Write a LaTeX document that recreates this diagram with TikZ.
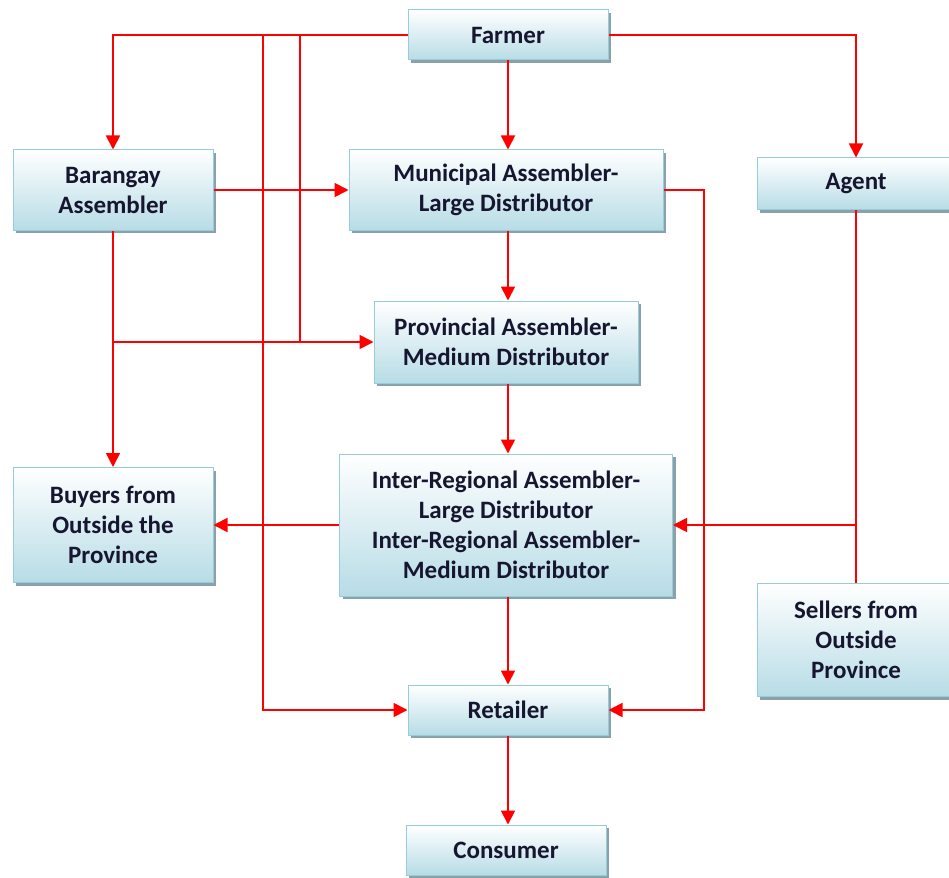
\documentclass[tikz,border=0pt]{standalone}
\usepackage{fontspec}
\setmainfont{Carlito}
\usetikzlibrary{arrows.meta,shadows}
\definecolor{boxedge}{RGB}{150,205,218}
\definecolor{boxbot}{RGB}{183,220,230}
\definecolor{shade}{RGB}{140,160,170}
\definecolor{ink}{RGB}{22,22,48}
\tikzset{
  stage/.style={draw=boxedge, line width=1pt, top color=white, bottom color=boxbot,
    drop shadow={shadow xshift=3pt, shadow yshift=-3pt, fill=shade, opacity=1},
    align=center, font=\fontsize{25}{30}\selectfont\bfseries, text=ink, inner sep=0pt},
  flow/.style={draw=red, line width=1.8pt, -{Triangle[length=14pt,width=14pt]}},
  link/.style={draw=red, line width=1.8pt}
}
\begin{document}
\begin{tikzpicture}[x=1pt,y=-1pt]
\useasboundingbox (0,0) rectangle (949,877);
\fill[white] (0,0) rectangle (949,877);

% stages of the supply chain
\node[stage, minimum width=200pt, minimum height=50pt] (farmer) at (508,35) {Farmer};
\node[stage, minimum width=200pt, minimum height=80pt] (barangay) at (113,190) {Barangay\\Assembler};
\node[stage, minimum width=314pt, minimum height=80pt] (municipal) at (506,190) {Municipal Assembler-\\Large Distributor};
\node[stage, minimum width=198pt, minimum height=52pt] (agent) at (856,184) {Agent};
\node[stage, minimum width=264pt, minimum height=82pt] (provincial) at (506,342) {Provincial Assembler-\\Medium Distributor};
\node[stage, minimum width=200pt, minimum height=115pt] (buyers) at (113,525) {Buyers from\\Outside the\\Province};
\node[stage, minimum width=333pt, minimum height=142pt] (inter) at (506,525) {Inter-Regional Assembler-\\Large Distributor\\Inter-Regional Assembler-\\Medium Distributor};
\node[stage, minimum width=198pt, minimum height=113pt] (sellers) at (856,640) {Sellers from\\Outside\\Province};
\node[stage, minimum width=200pt, minimum height=50pt] (retailer) at (508,710) {Retailer};
\node[stage, minimum width=200pt, minimum height=50pt] (consumer) at (506,850) {Consumer};

% junction points on the shared lines
\coordinate (fa) at (263,35);
\coordinate (fb) at (300,35);
\coordinate (bj) at (113,342);
\coordinate (mj) at (704,190);

% connectors
\draw[flow] (farmer.west) -| (barangay.north);
\draw[flow] (fa) |- (retailer.west);
\draw[link] (fb) -- (fb |- provincial.west);
\draw[flow] (farmer.south) -- (municipal.north -| farmer.south);
\draw[flow] (farmer.east) -| (agent.north);
\draw[flow] (barangay.east) -- (municipal.west);
\draw[flow] (barangay.south) -- (buyers.north);
\draw[flow] (bj) -- (provincial.west);
\draw[flow] (municipal.east) -- (mj) |- (retailer.east);
\draw[flow] (municipal.south -| farmer.south) -- (provincial.north -| farmer.south);
\draw[flow] (provincial.south -| farmer.south) -- (inter.north -| farmer.south);
\draw[flow] (inter.west) -- (buyers.east);
\draw[flow] (agent.south) |- (inter.east);
\draw[link] (sellers.north) -- (sellers.north |- inter.east);
\draw[flow] (inter.south -| farmer.south) -- (retailer.north);
\draw[flow] (retailer.south) -- (consumer.north -| retailer.south);
\end{tikzpicture}
\end{document}
